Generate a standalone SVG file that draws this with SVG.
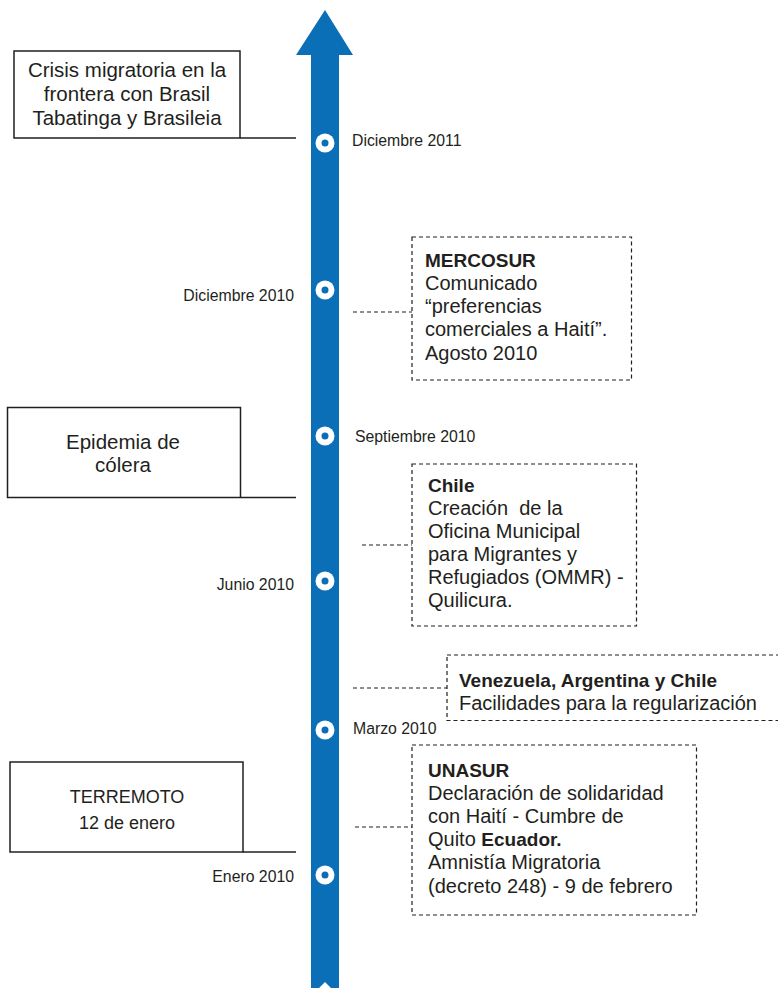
<svg xmlns="http://www.w3.org/2000/svg" width="778" height="988" viewBox="0 0 778 988">
<style>
text{font-family:"Liberation Sans",Arial,sans-serif;fill:#231f20}
.date{font-size:15.8px}
.big{font-size:20.5px;text-anchor:middle}
.body{font-size:20px}
.bold{font-size:19px;font-weight:bold}
.solid{fill:#fff;stroke:#231f20;stroke-width:1.5}
.dash{fill:none;stroke:#231f20;stroke-width:1.2;stroke-dasharray:4 3}
.line{stroke:#231f20;stroke-width:1.5;fill:none}
</style>
<defs>
<g id="dot"><circle r="9.5" fill="#fff"/><circle r="3.5" fill="#0b6fb8"/></g>
</defs>
<g id="timeline">
<polygon points="325,10 353,55 339,55 339,996 325,982 311,996 311,55 296,55" fill="#0b6fb8"/>
<use href="#dot" x="325" y="143"/>
<use href="#dot" x="325" y="290"/>
<use href="#dot" x="325" y="436"/>
<use href="#dot" x="325" y="581"/>
<use href="#dot" x="325" y="730"/>
<use href="#dot" x="325" y="875"/>
</g>
<g id="dates">
<text class="date" x="352" y="146">Diciembre 2011</text>
<text class="date" x="294" y="301" text-anchor="end">Diciembre 2010</text>
<text class="date" x="355" y="442">Septiembre 2010</text>
<text class="date" x="294" y="590" text-anchor="end">Junio 2010</text>
<text class="date" x="353" y="734">Marzo 2010</text>
<text class="date" x="294" y="882" text-anchor="end">Enero 2010</text>
</g>
<g id="connectors">
<path class="line" d="M240,138 H296"/>
<path class="line" d="M241,497.5 H296"/>
<path class="line" d="M243,852 H296"/>
<path class="dash" d="M353,312 H412"/>
<path class="dash" d="M362,545 H412"/>
<path class="dash" d="M353,688 H447"/>
<path class="dash" d="M355,827 H412"/>
</g>
<g id="crisis">
<rect class="solid" x="14" y="51" width="226" height="87"/>
<text class="big" x="127" y="77">Crisis migratoria en la</text>
<text class="big" x="127" y="101">frontera con Brasil</text>
<text class="big" x="127" y="125">Tabatinga y Brasileia</text>
</g>
<g id="mercosur">
<rect class="dash" x="412" y="237" width="219.5" height="143"/>
<text class="bold" x="425" y="267">MERCOSUR</text>
<text class="body" x="425" y="290">Comunicado</text>
<text class="body" x="425" y="313">“preferencias</text>
<text class="body" x="425" y="336">comerciales a Haití”.</text>
<text class="body" x="425" y="360">Agosto 2010</text>
</g>
<g id="epidemia">
<rect class="solid" x="7.5" y="407.5" width="233" height="90"/>
<text class="big" x="123" y="449">Epidemia de</text>
<text class="big" x="123" y="472">cólera</text>
</g>
<g id="chile">
<rect class="dash" x="412" y="464" width="224.5" height="162"/>
<text class="bold" x="428" y="492">Chile</text>
<text class="body" x="428" y="515" xml:space="preserve">Creación  de la</text>
<text class="body" x="428" y="538">Oficina Municipal</text>
<text class="body" x="428" y="561">para Migrantes y</text>
<text class="body" x="428" y="584">Refugiados (OMMR) -</text>
<text class="body" x="428" y="607">Quilicura.</text>
</g>
<g id="venezuela">
<rect class="dash" x="447" y="655" width="340" height="65.5"/>
<text class="bold" x="459" y="687">Venezuela, Argentina y Chile</text>
<text class="body" x="459" y="710">Facilidades para la regularización</text>
</g>
<g id="terremoto">
<rect class="solid" x="10" y="762" width="233" height="90"/>
<text x="127" y="803" style="font-size:18px;text-anchor:middle">TERREMOTO</text>
<text x="127" y="829" style="font-size:18px;text-anchor:middle">12 de enero</text>
</g>
<g id="unasur">
<rect class="dash" x="412" y="745" width="284.5" height="170"/>
<text class="bold" x="428" y="777">UNASUR</text>
<text class="body" x="428" y="800">Declaración de solidaridad</text>
<text class="body" x="428" y="823">con Haití - Cumbre de</text>
<text class="body" x="428" y="846">Quito <tspan style="font-weight:bold;font-size:19px">Ecuador.</tspan></text>
<text class="body" x="428" y="869">Amnistía Migratoria</text>
<text class="body" x="428" y="893">(decreto 248) - 9 de febrero</text>
</g>
</svg>
